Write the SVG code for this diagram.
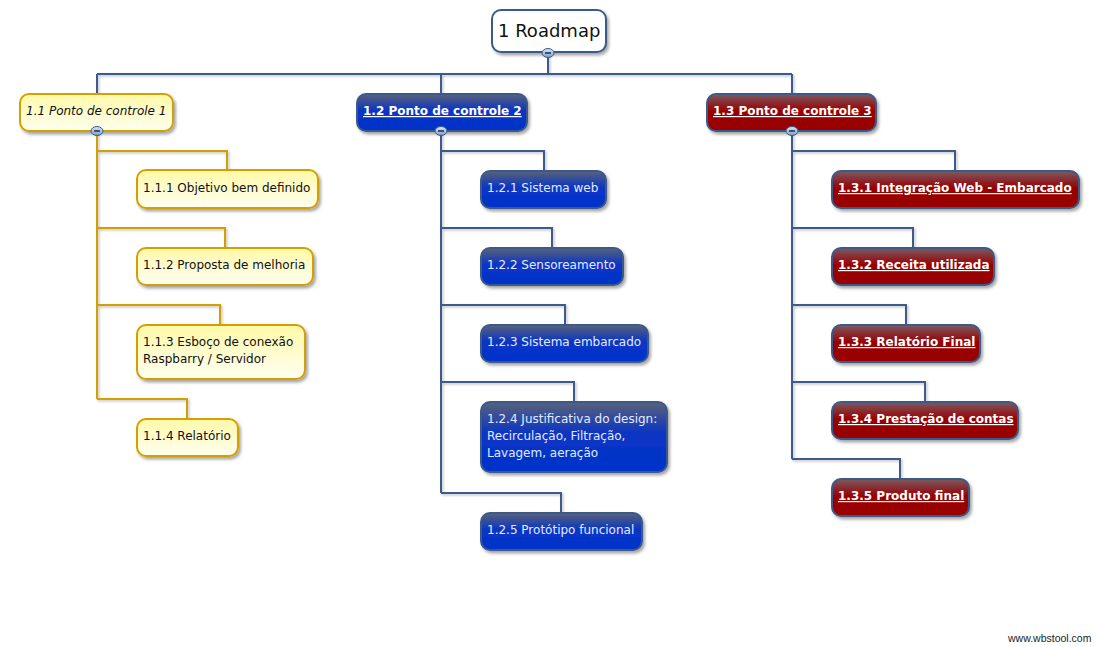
<svg xmlns="http://www.w3.org/2000/svg" width="1098" height="647" viewBox="0 0 1098 647">
<defs>
<filter id="sh" x="-10%" y="-10%" width="130%" height="140%">
<feDropShadow dx="2" dy="2.5" stdDeviation="1.5" flood-color="#000" flood-opacity="0.35"/>
</filter>
<filter id="lsh" x="-5%" y="-5%" width="110%" height="110%">
<feDropShadow dx="1.5" dy="1.5" stdDeviation="1" flood-color="#000" flood-opacity="0.25"/>
</filter>
<linearGradient id="gY" x1="0" y1="0" x2="0" y2="1">
<stop offset="0" stop-color="#fff9a8"/>
<stop offset="1" stop-color="#fffff2"/>
</linearGradient>
<linearGradient id="gB" x1="0" y1="0" x2="0" y2="1">
<stop offset="0" stop-color="#5a6278"/>
<stop offset="0.45" stop-color="#0a34c4"/>
<stop offset="1" stop-color="#0033cc"/>
</linearGradient>
<linearGradient id="gR" x1="0" y1="0" x2="0" y2="1">
<stop offset="0" stop-color="#7a5c62"/>
<stop offset="0.45" stop-color="#980202"/>
<stop offset="1" stop-color="#990000"/>
</linearGradient>
<linearGradient id="gI" x1="0" y1="0" x2="0" y2="1">
<stop offset="0" stop-color="#dce6f4"/>
<stop offset="1" stop-color="#7f9cc6"/>
</linearGradient>
<g id="minus">
<ellipse cx="0" cy="0" rx="6" ry="4.5" fill="url(#gI)" stroke="#3a5a8a" stroke-width="1"/>
<line x1="-3" y1="0" x2="3" y2="0" stroke="#23385a" stroke-width="1.6"/>
</g>
</defs>
<style>
text{font-family:"DejaVu Sans","Verdana",sans-serif;font-size:12px;}
.root rect{fill:#fff;stroke:#3a5a8a;stroke-width:2;}
.root text{font-size:18px;fill:#111;}
.y rect{fill:url(#gY);stroke:#d4a000;stroke-width:2;}
.y text{fill:#111;}
.b rect{fill:url(#gB);stroke:#3a5a8a;stroke-width:2;}
.b text{fill:#e4ebff;}
.r rect{fill:url(#gR);stroke:#3a5a8a;stroke-width:2;}
.r text{fill:#fff;font-weight:bold;text-decoration:underline;}
.bt{fill:#fff !important;font-weight:bold;text-decoration:underline;}
.it{font-style:italic;}
.cb{fill:none;stroke:#3c5a8c;stroke-width:2;}
.cy{fill:none;stroke:#d4a000;stroke-width:2;}
.wm{font-family:"Liberation Sans",Arial,sans-serif;font-size:10.5px;fill:#222;}
</style>

<g id="connectors" filter="url(#lsh)">
<path class="cb" d="M548,53 V74 M97,74 H792 M97,74 V94 M441,74 V94 M792,74 V94"/>
<path class="cy" d="M97,131 V399 M97,151 H227 V169 M97,228 H225 V247 M97,305 H220 V324 M97,399 H187 V418"/>
<path class="cb" d="M441,131 V493 M441,151 H544 V170 M441,228 H552 V247 M441,305 H565 V324 M441,382 H574 V401 M441,493 H561 V512"/>
<path class="cb" d="M792,131 V459 M792,151 H955 V170 M792,228 H913 V247 M792,305 H906 V324 M792,382 H925 V401 M792,459 H900 V478"/>
</g>

<g id="n1" class="root">
<rect x="492" y="10" width="114" height="42" rx="9" filter="url(#sh)"/>
<text x="498" y="37">1 Roadmap</text>
<use href="#minus" x="548" y="53"/>
</g>

<g id="n1_1" class="y">
<rect x="20" y="94" width="153" height="37" rx="9" filter="url(#sh)"/>
<text x="26" y="115" class="it">1.1 Ponto de controle 1</text>
<use href="#minus" x="97" y="131"/>
</g>
<g id="n1_1_1" class="y">
<rect x="137" y="170" width="181" height="38" rx="9" filter="url(#sh)"/>
<text x="143" y="192">1.1.1 Objetivo bem definido</text>
</g>
<g id="n1_1_2" class="y">
<rect x="137" y="248" width="176" height="37" rx="9" filter="url(#sh)"/>
<text x="143" y="269">1.1.2 Proposta de melhoria</text>
</g>
<g id="n1_1_3" class="y">
<rect x="137" y="325" width="168" height="54" rx="9" filter="url(#sh)"/>
<text x="143" y="346">1.1.3 Esboço de conexão</text>
<text x="143" y="363">Raspbarry / Servidor</text>
</g>
<g id="n1_1_4" class="y">
<rect x="137" y="419" width="101" height="37" rx="9" filter="url(#sh)"/>
<text x="143" y="440">1.1.4 Relatório</text>
</g>

<g id="n1_2" class="b">
<rect x="357" y="94" width="170" height="37" rx="9" filter="url(#sh)"/>
<text x="363" y="115" class="bt">1.2 Ponto de controle 2</text>
<use href="#minus" x="441" y="131"/>
</g>
<g id="n1_2_1" class="b">
<rect x="481" y="171" width="125" height="37" rx="9" filter="url(#sh)"/>
<text x="487" y="192">1.2.1 Sistema web</text>
</g>
<g id="n1_2_2" class="b">
<rect x="481" y="248" width="142" height="37" rx="9" filter="url(#sh)"/>
<text x="487" y="269">1.2.2 Sensoreamento</text>
</g>
<g id="n1_2_3" class="b">
<rect x="481" y="325" width="167" height="37" rx="9" filter="url(#sh)"/>
<text x="487" y="346">1.2.3 Sistema embarcado</text>
</g>
<g id="n1_2_4" class="b">
<rect x="481" y="402" width="186" height="70" rx="9" filter="url(#sh)"/>
<text x="487" y="423">1.2.4 Justificativa do design:</text>
<text x="487" y="440">Recirculação, Filtração,</text>
<text x="487" y="457">Lavagem, aeração</text>
</g>
<g id="n1_2_5" class="b">
<rect x="481" y="513" width="161" height="37" rx="9" filter="url(#sh)"/>
<text x="487" y="534">1.2.5 Protótipo funcional</text>
</g>

<g id="n1_3" class="r">
<rect x="707" y="94" width="169" height="37" rx="9" filter="url(#sh)"/>
<text x="713" y="115">1.3 Ponto de controle 3</text>
<use href="#minus" x="792" y="131"/>
</g>
<g id="n1_3_1" class="r">
<rect x="832" y="171" width="247" height="37" rx="9" filter="url(#sh)"/>
<text x="838" y="192">1.3.1 Integração Web - Embarcado</text>
</g>
<g id="n1_3_2" class="r">
<rect x="832" y="248" width="162" height="37" rx="9" filter="url(#sh)"/>
<text x="838" y="269">1.3.2 Receita utilizada</text>
</g>
<g id="n1_3_3" class="r">
<rect x="832" y="325" width="148" height="37" rx="9" filter="url(#sh)"/>
<text x="838" y="346">1.3.3 Relatório Final</text>
</g>
<g id="n1_3_4" class="r">
<rect x="832" y="402" width="186" height="37" rx="9" filter="url(#sh)"/>
<text x="838" y="423">1.3.4 Prestação de contas</text>
</g>
<g id="n1_3_5" class="r">
<rect x="832" y="479" width="137" height="37" rx="9" filter="url(#sh)"/>
<text x="838" y="500">1.3.5 Produto final</text>
</g>

<text class="wm" x="1008" y="642">www.wbstool.com</text>
</svg>
